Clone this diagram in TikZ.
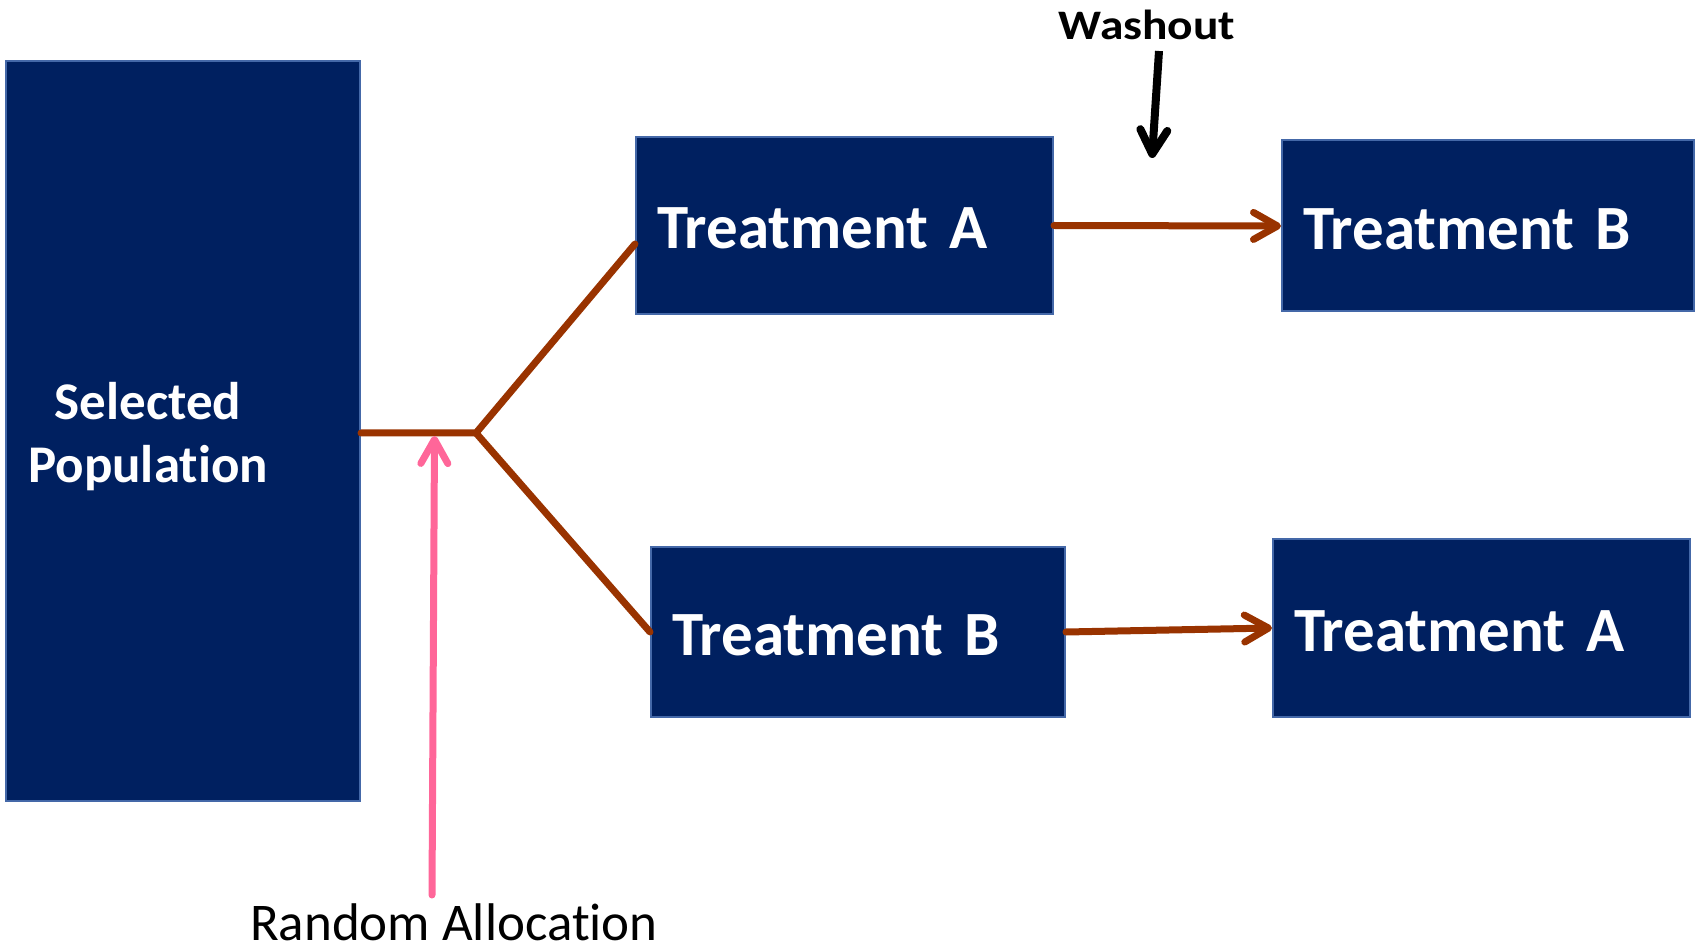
\documentclass[tikz,border=0pt]{standalone}
\usepackage{fontspec}
\setmainfont{Carlito}[Ligatures={NoCommon}]
\usetikzlibrary{arrows.meta}
\definecolor{navy}{HTML}{002060}
\definecolor{edgeblue}{HTML}{4468A8}
\definecolor{brownline}{HTML}{993300}
\definecolor{pinkline}{HTML}{FF6699}
\tikzset{
  box/.style={draw=edgeblue, line width=2pt, fill=navy, text=white, inner xsep=21pt, inner ysep=0pt, align=left, text height=47pt, text depth=0pt, font=\bfseries\fontsize{63}{76}\selectfont},
  brownarrow/.style={draw=brownline, line width=7pt, line cap=round, line join=round},
  barb/.style={-{Straight Barb[length=24pt, width=27pt, line cap=round, line join=round]}},
}
\begin{document}
\begin{tikzpicture}[x=1pt, y=-1pt]
\useasboundingbox (0,0) rectangle (1695,949);
% boxes
\node[box, minimum width=354pt, minimum height=740pt] (pop) at (183,431) {};
\node[anchor=base west, text=white, inner sep=0pt, font=\bfseries\fontsize{53}{63}\selectfont] (poptext) at (28,420) {\begin{tabular}[t]{@{}c@{}}Selected\\Population\end{tabular}};
\node[box, minimum width=417pt, minimum height=177pt, text width=375pt] (trA) at (844.5,225.5) {Treatment A};
\node[box, minimum width=412pt, minimum height=171pt, text width=370pt] (trB2) at (1488,226) {Treatment B};
\node[box, minimum width=414pt, minimum height=170pt, text width=372pt] (trB) at (858,632) {Treatment B};
\node[box, minimum width=417pt, minimum height=178pt, text width=375pt] (trA2) at (1481.5,628) {Treatment A};
% labels
\node[anchor=base, inner sep=0pt, font=\bfseries\fontsize{42}{50}\selectfont] (wash) at (1147,40) {\scalebox{1.13}[1]{Washout}};
\node[anchor=base, inner sep=0pt, font=\fontsize{53}{63}\selectfont] (rand) at (454,940) {Random Allocation};
% connectors
\coordinate (j) at (476,433);
\draw[brownarrow] ([yshift=-2pt]pop.east) -- (j) -- ([yshift=-18.5pt]trA.west);
\draw[brownarrow] (j) -- (trB.west);
\draw[brownarrow, barb] (trA.east) -- (trB2.west);
\draw[brownarrow, barb] (trB.east) -- (trA2.west);
\coordinate (ps) at (432,895);
\coordinate (pt) at (434.5,436);
\draw[pinkline, line width=7pt, line cap=round, barb] (ps) -- (pt);
\coordinate (ws) at (1159,51);
\coordinate (we) at (1152,158);
\draw[black, line width=8pt, barb] (ws) -- (we);
\end{tikzpicture}
\end{document}
